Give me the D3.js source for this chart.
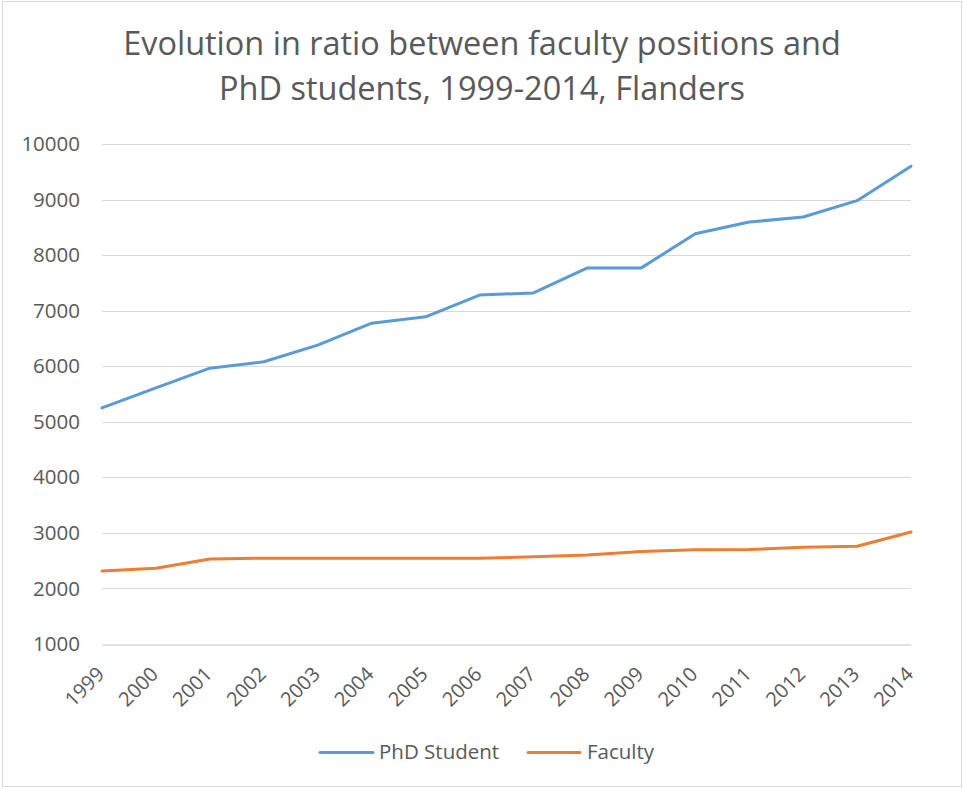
<!DOCTYPE html>
<html><head><meta charset="utf-8">
<script src="https://cdn.jsdelivr.net/npm/d3@7"></script>
<style>
body{margin:0;background:#fff;}
text{font-family:"Open Sans","Noto Sans",sans-serif;fill:#595959;}
</style></head>
<body>
<svg id="c" width="964" height="789"></svg>
<script>
const years = [1999,2000,2001,2002,2003,2004,2005,2006,2007,2008,2009,2010,2011,2012,2013,2014];
const phdStudents = [5250,5610,5965,6080,6380,6775,6890,7280,7320,7770,7770,8385,8595,8685,8980,9600];
const faculty = [2315,2365,2530,2545,2545,2545,2545,2545,2570,2600,2665,2695,2700,2740,2760,3015];
const yTicks = [1000,2000,3000,4000,5000,6000,7000,8000,9000,10000];
const titleLines = ["Evolution in ratio between faculty positions and","PhD students, 1999-2014, Flanders"];
const seriesNames = ["PhD Student","Faculty"];
const colors = ["#5B9BD5","#ED7D31"];

const svg = d3.select("#c");
svg.append("rect").attr("x",2.5).attr("y",1.5).attr("width",959).attr("height",785)
  .attr("fill","#fff").attr("stroke","#d9d9d9").attr("stroke-width",1);

const x = d3.scalePoint().domain(years).range([102,911]);
const y = d3.scaleLinear().domain([1000,10000]).range([644,144]);

// title
const t = svg.append("g");
titleLines.forEach((s,i)=>{
  t.append("text").attr("x",482).attr("y",[55,100][i]).attr("text-anchor","middle")
   .attr("font-size",27).text(s);
});
const tn = t.select("text").node();
const w = tn.getComputedTextLength();
const fs = 27*718/w;
t.selectAll("text").attr("font-size",fs);

// grid
svg.append("g").selectAll("line").data(yTicks.slice(1)).join("line")
  .attr("x1",102).attr("x2",911).attr("y1",d=>Math.round(y(d))+0.5).attr("y2",d=>Math.round(y(d))+0.5)
  .attr("stroke","#d9d9d9").attr("stroke-width",1);

// y axis
const ya = svg.append("g").attr("transform","translate(102,0)")
  .call(d3.axisLeft(y).tickValues(yTicks).tickSize(0).tickPadding(22).tickFormat(d3.format("d")));
ya.select(".domain").remove();
ya.selectAll("text").attr("font-size",20.5).style("font-family",'"Open Sans",sans-serif').attr("fill","#595959");

// x axis
const xa = svg.append("g").attr("transform","translate(0,"+(Math.round(y(1000))+0.5)+")")
  .call(d3.axisBottom(x).tickSize(0).tickPadding(0));
xa.select(".domain").attr("stroke","#d9d9d9").attr("stroke-width",1.3);
xa.selectAll("text").attr("font-size",20).style("font-family",'"Open Sans",sans-serif').attr("fill","#595959")
  .attr("text-anchor","end").attr("dy",0).attr("transform","translate(3,31) rotate(-45)");

// lines
const line = d3.line().x((d,i)=>x(years[i])).y(d=>y(d));
[phdStudents,faculty].forEach((s,i)=>{
  svg.append("path").datum(s).attr("d",line).attr("fill","none")
    .attr("stroke",colors[i]).attr("stroke-width",3).attr("stroke-linejoin","round").attr("stroke-linecap","round");
});

// legend
const leg = [{x1:320,x2:373,tx:379},{x1:528,x2:580,tx:587}];
leg.forEach((l,i)=>{
  svg.append("line").attr("x1",l.x1).attr("x2",l.x2).attr("y1",752.5).attr("y2",752.5)
    .attr("stroke",colors[i]).attr("stroke-width",3).attr("stroke-linecap","round");
  svg.append("text").attr("x",l.tx).attr("y",752).attr("dy","0.35em").attr("font-size",20.5).text(seriesNames[i]);
});
</script>
</body></html>
